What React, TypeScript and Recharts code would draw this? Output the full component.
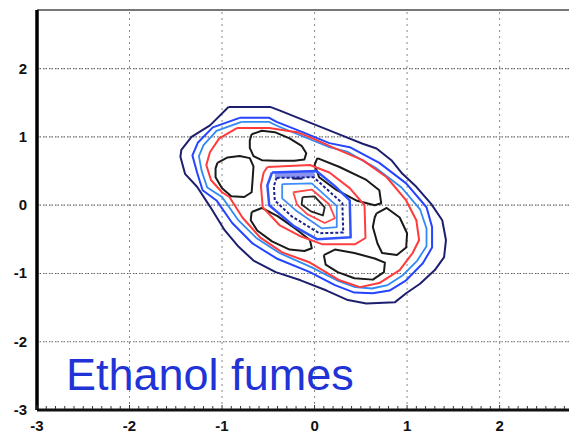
import React from 'react';
import { ComposedChart, Line, XAxis, YAxis, ReferenceLine } from 'recharts';

type P = { x: number; y: number };

const xLabels = [-3, -2, -1, 0, 1, 2];
const yLabels = [-3, -2, -1, 0, 1, 2];
const gridXs = [-2, -1, 0, 1, 2];
const gridYs = [-2, -1, 0, 1, 2];
const minorTicks: number[] = Array.from({ length: 58 }, (_, i) => Math.round(-30 + i) / 10);

const outerRing: P[] = [
  { x: -0.93, y: 1.44 }, { x: -0.48, y: 1.44 }, { x: -0.38, y: 1.39 }, { x: -0.03, y: 1.2 },
  { x: 0.28, y: 1.03 }, { x: 0.52, y: 0.9 }, { x: 0.67, y: 0.83 }, { x: 0.83, y: 0.66 },
  { x: 0.95, y: 0.46 }, { x: 1.1, y: 0.27 }, { x: 1.26, y: 0.02 }, { x: 1.38, y: -0.22 },
  { x: 1.42, y: -0.51 }, { x: 1.4, y: -0.76 }, { x: 1.3, y: -0.95 }, { x: 1.14, y: -1.15 },
  { x: 0.99, y: -1.29 }, { x: 0.87, y: -1.42 }, { x: 0.56, y: -1.44 }, { x: 0.36, y: -1.39 },
  { x: 0.13, y: -1.25 }, { x: -0.15, y: -1.1 }, { x: -0.42, y: -0.98 }, { x: -0.66, y: -0.81 },
  { x: -0.82, y: -0.61 }, { x: -0.97, y: -0.37 }, { x: -1.13, y: -0.02 }, { x: -1.27, y: 0.27 },
  { x: -1.4, y: 0.46 }, { x: -1.45, y: 0.71 }, { x: -1.44, y: 0.81 }, { x: -1.33, y: 1.0 },
  { x: -1.13, y: 1.17 }, { x: -0.93, y: 1.44 },
];

const blueRing: P[] = [
  { x: -0.81, y: 1.28 }, { x: -0.49, y: 1.28 }, { x: -0.41, y: 1.22 }, { x: -0.13, y: 1.07 },
  { x: 0.16, y: 0.91 }, { x: 0.38, y: 0.85 }, { x: 0.7, y: 0.62 }, { x: 0.99, y: 0.32 },
  { x: 1.21, y: -0.03 }, { x: 1.27, y: -0.32 }, { x: 1.27, y: -0.62 }, { x: 1.17, y: -0.85 },
  { x: 0.99, y: -1.1 }, { x: 0.81, y: -1.25 }, { x: 0.63, y: -1.29 }, { x: 0.43, y: -1.28 },
  { x: 0.22, y: -1.17 }, { x: -0.05, y: -0.98 }, { x: -0.41, y: -0.78 }, { x: -0.67, y: -0.56 },
  { x: -0.89, y: -0.26 }, { x: -1.06, y: 0.07 }, { x: -1.21, y: 0.22 }, { x: -1.27, y: 0.48 },
  { x: -1.32, y: 0.73 }, { x: -1.26, y: 0.92 }, { x: -1.1, y: 1.14 }, { x: -0.81, y: 1.28 },
];

const lightRing: P[] = [
  { x: -0.79, y: 1.22 }, { x: -0.49, y: 1.22 }, { x: -0.4, y: 1.16 }, { x: -0.13, y: 1.01 },
  { x: 0.16, y: 0.85 }, { x: 0.36, y: 0.78 }, { x: 0.67, y: 0.54 }, { x: 0.94, y: 0.26 },
  { x: 1.14, y: -0.06 }, { x: 1.21, y: -0.34 }, { x: 1.21, y: -0.6 }, { x: 1.11, y: -0.81 },
  { x: 0.95, y: -1.03 }, { x: 0.79, y: -1.17 }, { x: 0.62, y: -1.22 }, { x: 0.44, y: -1.2 },
  { x: 0.24, y: -1.1 }, { x: -0.03, y: -0.91 }, { x: -0.38, y: -0.7 }, { x: -0.63, y: -0.48 },
  { x: -0.83, y: -0.21 }, { x: -1.0, y: 0.12 }, { x: -1.16, y: 0.26 }, { x: -1.22, y: 0.5 },
  { x: -1.25, y: 0.72 }, { x: -1.2, y: 0.88 }, { x: -1.06, y: 1.09 }, { x: -0.79, y: 1.22 },
];

const redRing: P[] = [
  { x: -0.84, y: 1.13 }, { x: -0.49, y: 1.13 }, { x: -0.19, y: 1.07 }, { x: -0.02, y: 0.98 },
  { x: 0.19, y: 0.85 }, { x: 0.52, y: 0.66 }, { x: 0.78, y: 0.41 }, { x: 0.99, y: 0.07 },
  { x: 1.1, y: -0.22 }, { x: 1.13, y: -0.51 }, { x: 1.06, y: -0.7 }, { x: 0.92, y: -0.95 },
  { x: 0.7, y: -1.14 }, { x: 0.49, y: -1.2 }, { x: 0.27, y: -1.1 }, { x: -0.05, y: -0.84 },
  { x: -0.35, y: -0.69 }, { x: -0.59, y: -0.47 }, { x: -0.78, y: -0.18 }, { x: -0.92, y: 0.12 },
  { x: -1.0, y: 0.19 }, { x: -1.12, y: 0.37 }, { x: -1.17, y: 0.59 }, { x: -1.13, y: 0.78 },
  { x: -1.03, y: 0.98 }, { x: -0.84, y: 1.13 },
];

const lobeTop: P[] = [
  { x: -0.68, y: 1.04 }, { x: -0.57, y: 1.09 }, { x: -0.43, y: 1.07 }, { x: -0.27, y: 0.98 },
  { x: -0.14, y: 0.87 }, { x: -0.09, y: 0.76 }, { x: -0.11, y: 0.67 }, { x: -0.22, y: 0.65 },
  { x: -0.43, y: 0.65 }, { x: -0.57, y: 0.66 }, { x: -0.66, y: 0.72 }, { x: -0.7, y: 0.84 },
  { x: -0.7, y: 0.95 }, { x: -0.68, y: 1.04 },
];

const lobeLeft: P[] = [
  { x: -1.05, y: 0.62 }, { x: -0.94, y: 0.7 }, { x: -0.81, y: 0.72 }, { x: -0.7, y: 0.69 },
  { x: -0.66, y: 0.57 }, { x: -0.67, y: 0.37 }, { x: -0.68, y: 0.19 }, { x: -0.76, y: 0.12 },
  { x: -0.9, y: 0.13 }, { x: -1.0, y: 0.25 }, { x: -1.07, y: 0.41 }, { x: -1.07, y: 0.54 },
  { x: -1.05, y: 0.62 },
];

const lobeUpperRight: P[] = [
  { x: 0.03, y: 0.69 }, { x: 0.27, y: 0.56 }, { x: 0.56, y: 0.37 }, { x: 0.7, y: 0.22 },
  { x: 0.72, y: 0.03 }, { x: 0.65, y: 0.0 }, { x: 0.45, y: 0.07 }, { x: 0.24, y: 0.22 },
  { x: 0.05, y: 0.41 }, { x: 0.0, y: 0.59 }, { x: 0.03, y: 0.69 },
];

const lobeRight: P[] = [
  { x: 0.67, y: -0.12 }, { x: 0.78, y: -0.04 }, { x: 0.92, y: -0.18 }, { x: 1.0, y: -0.41 },
  { x: 0.99, y: -0.62 }, { x: 0.89, y: -0.73 }, { x: 0.73, y: -0.7 }, { x: 0.68, y: -0.56 },
  { x: 0.63, y: -0.32 }, { x: 0.65, y: -0.18 }, { x: 0.67, y: -0.12 },
];

const lobeLowerRight: P[] = [
  { x: 0.1, y: -0.73 }, { x: 0.22, y: -0.65 }, { x: 0.43, y: -0.7 }, { x: 0.65, y: -0.78 },
  { x: 0.76, y: -0.84 }, { x: 0.75, y: -0.98 }, { x: 0.63, y: -1.09 }, { x: 0.43, y: -1.07 },
  { x: 0.25, y: -0.98 }, { x: 0.12, y: -0.87 }, { x: 0.1, y: -0.73 },
];

const lobeLowerLeft: P[] = [
  { x: -0.68, y: -0.1 }, { x: -0.57, y: -0.04 }, { x: -0.4, y: -0.16 }, { x: -0.21, y: -0.34 },
  { x: -0.05, y: -0.51 }, { x: -0.03, y: -0.63 }, { x: -0.11, y: -0.67 }, { x: -0.27, y: -0.65 },
  { x: -0.46, y: -0.53 }, { x: -0.62, y: -0.37 }, { x: -0.69, y: -0.22 }, { x: -0.68, y: -0.1 },
];

const innerRed: P[] = [
  { x: -0.51, y: 0.56 }, { x: -0.05, y: 0.59 }, { x: 0.16, y: 0.48 }, { x: 0.38, y: 0.25 },
  { x: 0.54, y: 0.0 }, { x: 0.55, y: -0.48 }, { x: 0.44, y: -0.57 }, { x: 0.08, y: -0.57 },
  { x: -0.16, y: -0.45 }, { x: -0.38, y: -0.29 }, { x: -0.56, y: -0.03 }, { x: -0.58, y: 0.29 },
  { x: -0.55, y: 0.48 }, { x: -0.51, y: 0.56 },
];

const innerBlue: P[] = [
  { x: -0.46, y: 0.48 }, { x: 0.02, y: 0.5 }, { x: 0.22, y: 0.28 }, { x: 0.38, y: 0.07 },
  { x: 0.39, y: -0.47 }, { x: 0.03, y: -0.5 }, { x: -0.22, y: -0.31 }, { x: -0.49, y: 0.0 },
  { x: -0.51, y: 0.29 }, { x: -0.46, y: 0.48 },
];

const topBand: P[] = [
  { x: -0.43, y: 0.44 }, { x: 0.0, y: 0.45 },
];

const topDash: P[] = [
  { x: -0.24, y: 0.39 }, { x: -0.13, y: 0.39 },
];

const innerNavy: P[] = [
  { x: -0.41, y: 0.4 }, { x: -0.01, y: 0.41 }, { x: 0.3, y: 0.03 }, { x: 0.31, y: -0.4 },
  { x: 0.05, y: -0.41 }, { x: -0.25, y: -0.16 }, { x: -0.43, y: 0.07 }, { x: -0.44, y: 0.28 },
  { x: -0.41, y: 0.4 },
];

const innerLight: P[] = [
  { x: -0.35, y: 0.31 }, { x: -0.03, y: 0.32 }, { x: 0.24, y: -0.01 }, { x: 0.24, y: -0.32 },
  { x: 0.08, y: -0.34 }, { x: -0.19, y: -0.09 }, { x: -0.35, y: 0.1 }, { x: -0.35, y: 0.31 },
];

const coreRed: P[] = [
  { x: -0.23, y: 0.19 }, { x: -0.03, y: 0.23 }, { x: 0.16, y: 0.01 }, { x: 0.22, y: -0.19 },
  { x: 0.11, y: -0.26 }, { x: -0.08, y: -0.13 }, { x: -0.19, y: 0.01 }, { x: -0.23, y: 0.19 },
];

const coreBlack: P[] = [
  { x: -0.13, y: 0.12 }, { x: 0.0, y: 0.13 }, { x: 0.11, y: -0.03 }, { x: 0.09, y: -0.15 },
  { x: -0.04, y: -0.09 }, { x: -0.14, y: 0.01 }, { x: -0.13, y: 0.12 },
];

const series: { data: P[]; color: string; w: number; dash?: string }[] = [
  { data: outerRing, color: '#1d1f6e', w: 2 },
  { data: blueRing, color: '#2444ff', w: 2 },
  { data: lightRing, color: '#2f8af5', w: 1.8 },
  { data: redRing, color: '#ff3a3a', w: 2 },
  { data: lobeTop, color: '#1a1a1a', w: 2 },
  { data: lobeLeft, color: '#1a1a1a', w: 2 },
  { data: lobeUpperRight, color: '#1a1a1a', w: 2 },
  { data: lobeRight, color: '#1a1a1a', w: 2 },
  { data: lobeLowerRight, color: '#1a1a1a', w: 2 },
  { data: lobeLowerLeft, color: '#1a1a1a', w: 2 },
  { data: innerRed, color: '#ff3f3f', w: 2 },
  { data: topBand, color: '#8a94ee', w: 6 },
  { data: innerBlue, color: '#3152ff', w: 2.5 },
  { data: topDash, color: '#1a1f70', w: 2 },
  { data: innerNavy, color: '#1a2290', w: 2, dash: '3 2' },
  { data: innerLight, color: '#3d8ef8', w: 1.8 },
  { data: coreRed, color: '#ff4a4a', w: 1.8 },
  { data: coreBlack, color: '#222222', w: 1.8 },
];

const isInt = (v: number) => Math.abs(v - Math.round(v)) < 1e-6;

const XTick = (props: any) => {
  const { x, y, payload } = props;
  const v = payload.value as number;
  const major = isInt(v) && xLabels.includes(Math.round(v));
  return (
    <g>
      <line x1={x} x2={x} y1={y - 1} y2={y - (major ? 5 : 4)} stroke="#333" strokeWidth={1} />
      {major && (
        <text x={x} y={y + 21} textAnchor="middle" fontSize={15} fontWeight="bold"
          fontFamily="'Liberation Sans', Arial, sans-serif" fill="#111">
          {Math.round(v)}
        </text>
      )}
    </g>
  );
};

const YTick = (props: any) => {
  const { x, y, payload } = props;
  return (
    <text x={x - 10} y={y + 5} textAnchor="end" fontSize={15} fontWeight="bold"
      fontFamily="'Liberation Sans', Arial, sans-serif" fill="#111">
      {payload.value}
    </text>
  );
};

export default function App() {
  return (
    <div style={{ position: 'absolute', left: 0, top: 0, width: 569, height: 434, background: '#fff' }}>
      <ComposedChart width={569} height={434} margin={{ top: 10, right: 0, left: 0, bottom: 0 }}>
        <XAxis type="number" dataKey="x" domain={[-3, 2.75]} ticks={minorTicks} interval={0}
          allowDataOverflow tick={<XTick />} tickLine={false} tickSize={0} tickMargin={0} height={24}
          axisLine={{ stroke: '#111', strokeWidth: 3 }} />
        <YAxis type="number" dataKey="y" domain={[-3, 2.86]} ticks={yLabels} interval={0}
          allowDataOverflow tick={<YTick />} tickLine={false} tickSize={0} tickMargin={0} width={37}
          axisLine={{ stroke: '#000', strokeWidth: 3.5 }} />
        {gridYs.map((v) => (
          <ReferenceLine key={'gy' + v} y={v} stroke="#666" strokeWidth={1.2} strokeDasharray="1.5 1 1.5 2" />
        ))}
        {gridXs.map((v) => (
          <ReferenceLine key={'gx' + v} x={v} stroke="#888" strokeWidth={1} strokeDasharray="2 4" />
        ))}
        <ReferenceLine y={2.86} stroke="#777" strokeWidth={2} />
        {series.map((s, i) => (
          <Line key={i} data={s.data} dataKey="y" type="linear" stroke={s.color} strokeWidth={s.w}
            strokeDasharray={s.dash} dot={false} activeDot={false} isAnimationActive={false}
            strokeLinejoin="round" />
        ))}
      </ComposedChart>
      <svg width={569} height={434} style={{ position: 'absolute', left: 0, top: 0, pointerEvents: 'none' }}>
        <text x={66} y={390} fontSize={45} fill="#1f33d6" fontFamily="'Liberation Sans', Arial, sans-serif">
          Ethanol fumes
        </text>
      </svg>
    </div>
  );
}
